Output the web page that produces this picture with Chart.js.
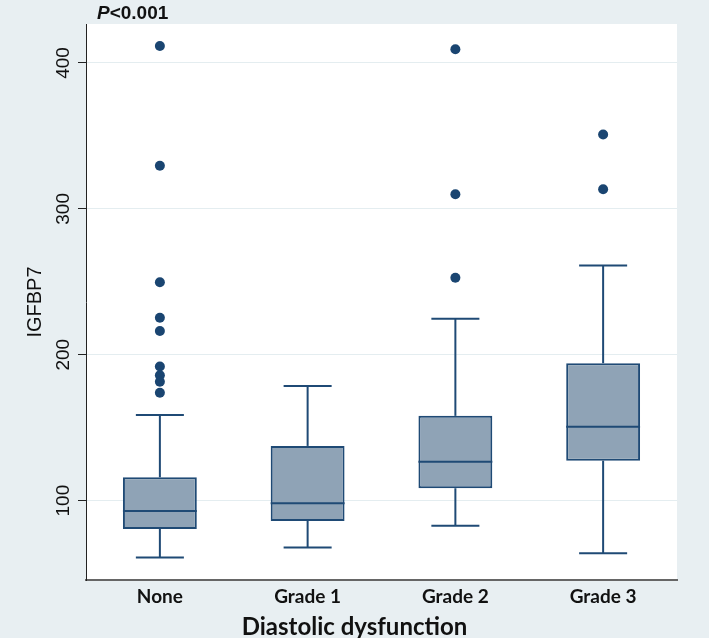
<!DOCTYPE html>
<html>
<head>
<meta charset="utf-8">
<script src="https://cdn.jsdelivr.net/npm/chart.js@4.4.1/dist/chart.umd.min.js"></script>
<style>
  body { margin: 0; background: #ffffff; }
  #wrap { width: 709px; height: 638px; background: #e8eff2; }
</style>
</head>
<body>
<div id="wrap"><canvas id="chart" width="709" height="638"></canvas></div>
<script>
// categories and box statistics
const categories = ['None', 'Grade 1', 'Grade 2', 'Grade 3'];
const whiskerLow = [61, 67.8, 82.7, 63.9];
const q1 = [80.6, 86.1, 108.5, 127.4];
const median = [92.9, 98.2, 126.7, 150.7];
const q3 = [116, 137.5, 158.1, 194.2];
const whiskerHigh = [158.7, 178.6, 224.7, 261.1];
const outliers = [
    [411.6, 329.6, 249.7, 225.4, 216.3, 192, 186, 181.5, 174],
    [],
    [409.4, 310, 252.8],
    [350.9, 313.4]
];
const yTicks = [100, 200, 300, 400];

const boxFill = '#8fa3b6';
const boxLine = '#1f4a75';
const dotColor = '#1a4571';

const outlierPoints = [];
outliers.forEach((vals, i) => {
    vals.forEach(v => outlierPoints.push({ x: categories[i], y: v }));
});

// white plot region
const plotBg = {
    id: 'plotBg',
    beforeDraw(chart) {
        const { ctx, chartArea: a } = chart;
        ctx.save();
        ctx.fillStyle = '#ffffff';
        ctx.fillRect(a.left, a.top, a.right - a.left, a.bottom - a.top);
        ctx.restore();
    }
};

// whiskers, caps and median line
const boxExtras = {
    id: 'boxExtras',
    afterDatasetsDraw(chart) {
        const { ctx } = chart;
        const x = chart.scales.x, y = chart.scales.y;
        const band = (x.right - x.left) / categories.length;
        const capHalf = band * 0.1625;
        const boxHalf = band * 0.25;
        ctx.save();
        ctx.strokeStyle = boxLine;
        ctx.lineWidth = 2;
        categories.forEach((c, i) => {
            const cx = x.getPixelForValue(i);
            const line = (x1, y1, x2, y2) => {
                ctx.beginPath();
                ctx.moveTo(x1, y1);
                ctx.lineTo(x2, y2);
                ctx.stroke();
            };
            line(cx, y.getPixelForValue(q3[i]), cx, y.getPixelForValue(whiskerHigh[i]));
            line(cx, y.getPixelForValue(q1[i]), cx, y.getPixelForValue(whiskerLow[i]));
            line(cx - capHalf, y.getPixelForValue(whiskerHigh[i]), cx + capHalf, y.getPixelForValue(whiskerHigh[i]));
            line(cx - capHalf, y.getPixelForValue(whiskerLow[i]), cx + capHalf, y.getPixelForValue(whiskerLow[i]));
            line(cx - boxHalf, y.getPixelForValue(median[i]), cx + boxHalf, y.getPixelForValue(median[i]));
        });
        ctx.restore();
    }
};

// "P<0.001" above the plot and the x title centred on the figure
const texts = {
    id: 'texts',
    afterDraw(chart) {
        const { ctx } = chart;
        ctx.save();
        ctx.fillStyle = '#111111';
        ctx.textBaseline = 'alphabetic';
        ctx.font = 'italic bold 19px "Liberation Sans", Arial, sans-serif';
        ctx.fillText('P', 97, 19);
        const w = ctx.measureText('P').width;
        ctx.font = 'bold 19px "Liberation Sans", Arial, sans-serif';
        ctx.fillText('<0.001', 97 + w, 19);

        ctx.font = 'bold 24px Lato, sans-serif';
        ctx.textAlign = 'center';
        ctx.textBaseline = 'middle';
        ctx.fillText('Diastolic dysfunction', chart.width / 2, 627);
        ctx.restore();
    }
};

new Chart(document.getElementById('chart'), {
    type: 'bar',
    data: {
        labels: categories,
        datasets: [
            {
                label: 'IQR',
                data: q1.map((v, i) => [v, q3[i]]),
                backgroundColor: boxFill,
                borderColor: boxLine,
                borderWidth: 2,
                borderSkipped: false,
                barPercentage: 0.5,
                categoryPercentage: 1
            },
            {
                type: 'scatter',
                label: 'Outliers',
                data: outlierPoints,
                backgroundColor: dotColor,
                borderColor: dotColor,
                pointRadius: 5,
                borderWidth: 0
            }
        ]
    },
    options: {
        responsive: false,
        animation: false,
        devicePixelRatio: 1,
        layout: { padding: { left: 0, right: 32, top: 24, bottom: 0 } },
        plugins: {
            legend: { display: false },
            tooltip: { enabled: false }
        },
        scales: {
            x: {
                type: 'category',
                offset: true,
                grid: { display: false },
                border: { display: true, color: '#666666', width: 2 },
                ticks: {
                    color: '#111111',
                    padding: -3,
                    font: { family: 'Lato', weight: 'bold', size: 19 }
                },
                afterFit(s) { s.height = 58; }
            },
            y: {
                min: 45.6,
                max: 426.7,
                afterBuildTicks(s) { s.ticks = yTicks.map(v => ({ value: v })); },
                grid: {
                    color: '#e4edf0',
                    lineWidth: 1,
                    tickColor: '#222222',
                    tickLength: 8
                },
                border: { display: true, color: '#222222', width: 1 },
                ticks: {
                    color: '#111111',
                    minRotation: 90,
                    maxRotation: 90,
                    crossAlign: 'center',
                    padding: -2,
                    font: { family: '"Liberation Sans", Arial, sans-serif', size: 19 }
                },
                title: {
                    display: true,
                    text: 'IGFBP7',
                    color: '#111111',
                    font: { family: '"Liberation Sans", Arial, sans-serif', size: 20, lineHeight: 1.2 },
                    padding: { top: 23, bottom: 0 }
                },
                afterFit(s) { s.width = 86; }
            }
        }
    },
    plugins: [plotBg, boxExtras, texts]
});
</script>
</body>
</html>
